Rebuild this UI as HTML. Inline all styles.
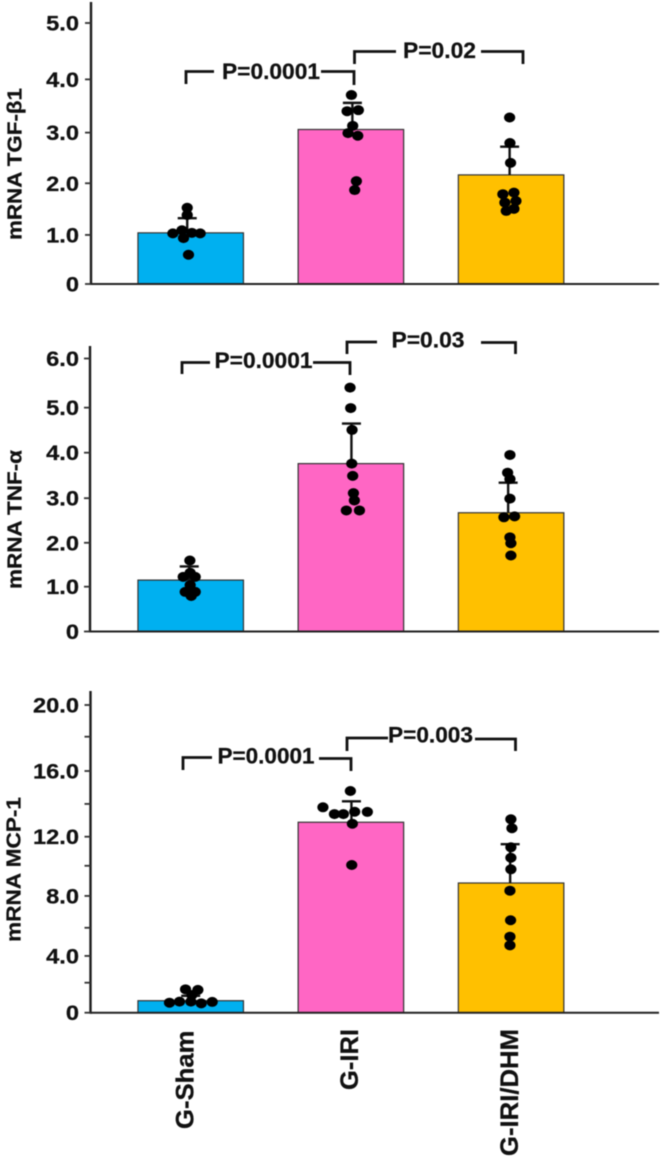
<!DOCTYPE html>
<html lang="en">
<head>
<meta charset="utf-8">
<title>mRNA bar charts</title>
<style>
html,body{margin:0;padding:0;background:#fff;}
svg{display:block;filter:blur(.45px);}
text{font-family:"Liberation Sans",sans-serif;font-weight:bold;fill:#111;stroke:#111;stroke-width:.25;}
.br{fill:none;stroke:#111;stroke-width:2.8;}
</style>
</head>
<body>
<svg id="figure" xmlns="http://www.w3.org/2000/svg" width="661" height="1159" viewBox="0 0 661 1159">
  <rect width="661" height="1159" fill="#fff"/>
  <g id="panel-tgf"></g>
  <g id="panel-tnf"></g>
  <g id="panel-mcp"></g>

  <text transform="translate(21.5,240) rotate(-90)" font-size="20" textLength="152" lengthAdjust="spacingAndGlyphs">mRNA TGF-β1</text>
  <text transform="translate(21.5,589) rotate(-90)" font-size="20" textLength="139" lengthAdjust="spacingAndGlyphs">mRNA TNF-α</text>
  <text transform="translate(20.5,942) rotate(-90)" font-size="20" textLength="145" lengthAdjust="spacingAndGlyphs">mRNA MCP-1</text>

  <path class="br" d="M186 84V71.5H214M321 71.5H354V85"/>
  <text x="222" y="79" font-size="22" textLength="98" lengthAdjust="spacingAndGlyphs">P=0.0001</text>
  <path class="br" d="M354.5 64V51.5H396M481 51.5H523V64"/>
  <text x="403" y="58" font-size="22" textLength="73" lengthAdjust="spacingAndGlyphs">P=0.02</text>

  <path class="br" d="M182 374V362.5H210M313 362.5H350V375"/>
  <text x="214.5" y="368" font-size="22" textLength="98" lengthAdjust="spacingAndGlyphs">P=0.0001</text>
  <path class="br" d="M347 354V342H377M481 342.5H515.5V354"/>
  <text x="391.5" y="347.5" font-size="22" textLength="73" lengthAdjust="spacingAndGlyphs">P=0.03</text>

  <path class="br" d="M183 770V757.5H212M319 758.5H351V771"/>
  <text x="217.5" y="763.5" font-size="22" textLength="97" lengthAdjust="spacingAndGlyphs">P=0.0001</text>
  <path class="br" d="M347 751V738H388M475 739H515.5V751"/>
  <text x="388" y="742.5" font-size="22" textLength="85" lengthAdjust="spacingAndGlyphs">P=0.003</text>

  <text transform="translate(193.5,1129) rotate(-90)" font-size="25" textLength="98.5" lengthAdjust="spacingAndGlyphs">G-Sham</text>
  <text transform="translate(358,1090) rotate(-90)" font-size="25" textLength="61" lengthAdjust="spacingAndGlyphs">G-IRI</text>
  <text transform="translate(518,1156) rotate(-90)" font-size="25" textLength="127" lengthAdjust="spacingAndGlyphs">G-IRI/DHM</text>
</svg>
<script>
// ---------- Data ----------
const categories = ['G-Sham', 'G-IRI', 'G-IRI/DHM'];
const barColors = ['#00B0F0', '#FF66C4', '#FFC000'];

// Panel 1: TGF-beta1
const tgfTickValues = [0, 0.94, 1.93, 2.9, 3.92, 5];
const tgfTickLabels = ['0', '1.0', '2.0', '3.0', '4.0', '5.0'];
const tgfMeans = [0.98, 2.96, 2.09];
const tgfUpper = [1.26, 3.47, 2.63];
const tgfWhiskerJitter = [-3.3, 1.4, -1.4];
const tgfShamValues = [1.46, 1.32, 0.97, 1.03, 0.97, 0.98, 0.88, 0.56];
const tgfShamJitter = [-3.3, -3.3, -16.9, -8.3, 9, 1.1, -6.8, -2.1];
const tgfIriValues = [3.62, 3.31, 3.33, 3.03, 2.89, 2.84, 1.97, 1.8];
const tgfIriJitter = [0.5, -3.6, 7.1, 1.7, -2.7, 6.5, 5.2, 3.6];
const tgfDhmValues = [3.19, 2.7, 2.32, 1.72, 1.75, 1.56, 1.59, 1.44, 1.4];
const tgfDhmJitter = [-1.4, -1.1, -0.5, -7.8, 2.7, -5.9, 4.6, 2.7, -4.6];

// Panel 2: TNF-alpha
const tnfTickValues = [0, 0.985, 1.95, 2.93, 3.93, 4.92, 6];
const tnfTickLabels = ['0', '1.0', '2.0', '3.0', '4.0', '5.0', '6.0'];
const tnfMeans = [1.13, 3.69, 2.61];
const tnfUpper = [1.43, 4.57, 3.27];
const tnfWhiskerJitter = [-1.4, 0.5, -2.8];
const tnfShamValues = [1.56, 1.2, 1.2, 1.29, 1.02, 0.87, 0.87, 0.78];
const tnfShamJitter = [-0.8, -7.1, 4.3, -0.5, -0.5, -5.2, 4.3, 0.5];
const tnfIriValues = [5.36, 4.91, 4.43, 3.69, 3.42, 3.04, 2.88, 2.66, 2.66];
const tnfIriJitter = [-0.8, -0.2, 1.1, 0.8, 1.7, 2.4, 3.3, -4.3, 8.1];
const tnfDhmValues = [3.88, 3.49, 3.35, 2.92, 2.51, 2.53, 2.07, 1.94, 1.67];
const tnfDhmJitter = [-1.1, -3.3, -1.1, -1.1, -6.8, 3.3, -1.1, -0.2, -0.2];

// Panel 3: MCP-1
const mcpTickValues = [0, 1.95, 3.69, 5.52, 7.59, 9.55, 11.44, 13.57, 15.71, 17.94, 20];
const mcpTickLabels = ['0', '', '4.0', '', '8.0', '', '12.0', '', '16.0', '', '20.0'];
const mcpMeans = [0.78, 12.38, 8.43];
const mcpUpper = [1.1, 13.74, 10.95];
const mcpWhiskerJitter = [0, 0.5, -0.9];
const mcpShamValues = [1.52, 1.48, 1.15, 0.65, 0.72, 0.72, 0.61, 0.7];
const mcpShamJitter = [-4.9, 6.8, 1.1, -20.1, -10.6, 0.2, 10, 20.4];
const mcpIriValues = [13.35, 12.91, 12.91, 14.41, 13.06, 13.05, 12.28, 9.6];
const mcpIriJitter = [-26.5, -15.6, -7.1, -0.5, 3.6, 15.6, 1.4, 0.8];
const mcpDhmValues = [12.57, 11.99, 10.75, 10.07, 9.32, 7.93, 6.01, 4.94, 4.38];
const mcpDhmJitter = [-0.2, 0.8, -0.2, -0.2, -0.2, -1.1, -0.5, -1.1, -1.1];

// ---------- Layout and axis functions ----------
const NS = 'http://www.w3.org/2000/svg';
const BAR_WIDTH = 105.5;
const CAP_HALF = 9.5;

function xScale(index) {
  return 190.7 + 160.2 * index;
}
function jitterPx(percent) {
  return percent / 100 * BAR_WIDTH;
}
function make(tag, parent) {
  const el = document.createElementNS(NS, tag);
  parent.appendChild(el);
  return el;
}
function setAll(el, props) {
  Object.keys(props).forEach(function (k) { el.setAttribute(k, props[k]); });
}

function drawPanel(panel) {
  const g = document.getElementById(panel.id);
  const yScale = function (v) { return panel.base - v * panel.unit; };

  panel.means.forEach(function (mean, i) {
    const bar = make('rect', g);
    setAll(bar, {
      x: xScale(i) - BAR_WIDTH / 2, y: yScale(mean),
      width: BAR_WIDTH, height: yScale(0) - yScale(mean),
      fill: barColors[i], stroke: '#333', 'stroke-width': 1.2
    });
    
    
    const title = make('title', bar);
    title.textContent = categories[i];
  });

  panel.upper.forEach(function (up, i) {
    const cx = xScale(i) + jitterPx(panel.whiskerJitter[i]);
    const whisker = make('path', g);
    setAll(whisker, {
      d: 'M' + cx + ' ' + yScale(panel.means[i]) + 'V' + yScale(up) +
         'M' + (cx - CAP_HALF) + ' ' + yScale(up) + 'H' + (cx + CAP_HALF),
      fill: 'none', stroke: '#111', 'stroke-width': 2.4
    });
    
    
  });

  panel.points.forEach(function (series, i) {
    series.values.forEach(function (v, j) {
      const dot = make('ellipse', g);
      setAll(dot, {
        cx: xScale(i) + jitterPx(series.jitter[j]), cy: yScale(v),
        rx: 5.6, ry: 5, fill: '#000'
      });
      
      
    });
  });

  const yAxis = make('line', g);
  setAll(yAxis, { x1: panel.axisX, x2: panel.axisX, y1: panel.top, y2: panel.base + 1, stroke: '#1c1c1c', 'stroke-width': 2.4 });
  
  

  const xAxis = make('line', g);
  setAll(xAxis, { x1: panel.axisX, x2: 659, y1: panel.base, y2: panel.base, stroke: '#222', 'stroke-width': 2 });
  
  

  panel.tickValues.forEach(function (v, i) {
    const tick = make('line', g);
    setAll(tick, { x1: panel.axisX - 6, x2: panel.axisX, y1: yScale(v), y2: yScale(v), stroke: '#333', 'stroke-width': 1.8 });
    
    
    if (panel.tickLabels[i]) {
      const label = make('text', g);
      label.textContent = panel.tickLabels[i];
      setAll(label, {
        transform: 'translate(' + 79 + ',' + (yScale(v) + 7.5) + ') scale(1.1,1)',
        'text-anchor': 'end', 'font-size': 21.5
      });
      
      
    }
  });
}

drawPanel({
  id: 'panel-tgf', base: 284, unit: 52.2, top: 2, axisX: 91,
  tickValues: tgfTickValues, tickLabels: tgfTickLabels,
  means: tgfMeans, upper: tgfUpper, whiskerJitter: tgfWhiskerJitter,
  points: [
    { values: tgfShamValues, jitter: tgfShamJitter },
    { values: tgfIriValues, jitter: tgfIriJitter },
    { values: tgfDhmValues, jitter: tgfDhmJitter }
  ]
});
drawPanel({
  id: 'panel-tnf', base: 631.5, unit: 45.5, top: 346, axisX: 90,
  tickValues: tnfTickValues, tickLabels: tnfTickLabels,
  means: tnfMeans, upper: tnfUpper, whiskerJitter: tnfWhiskerJitter,
  points: [
    { values: tnfShamValues, jitter: tnfShamJitter },
    { values: tnfIriValues, jitter: tnfIriJitter },
    { values: tnfDhmValues, jitter: tnfDhmJitter }
  ]
});
drawPanel({
  id: 'panel-mcp', base: 1012.7, unit: 15.385, top: 691, axisX: 90.5,
  tickValues: mcpTickValues, tickLabels: mcpTickLabels,
  means: mcpMeans, upper: mcpUpper, whiskerJitter: mcpWhiskerJitter,
  points: [
    { values: mcpShamValues, jitter: mcpShamJitter },
    { values: mcpIriValues, jitter: mcpIriJitter },
    { values: mcpDhmValues, jitter: mcpDhmJitter }
  ]
});
</script>
</body>
</html>
